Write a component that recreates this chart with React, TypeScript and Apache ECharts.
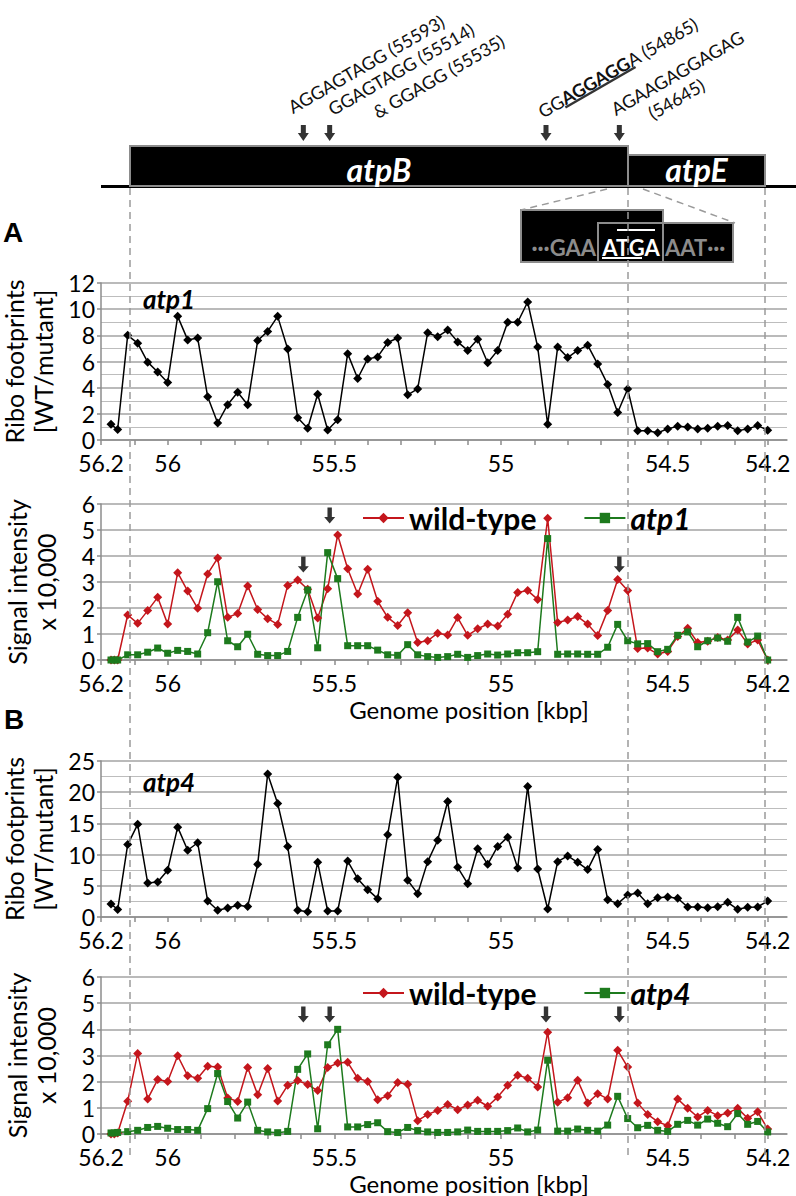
import React, { useEffect, useRef } from "react";
import * as echarts from "echarts";

// ---------- data ----------
const leadPositions = [56.17, 56.16, 56.15];
const positions = [
  56.12, 56.09, 56.06, 56.03, 56.0, 55.97, 55.94, 55.91, 55.88, 55.85,
  55.82, 55.79, 55.76, 55.73, 55.7, 55.67, 55.64, 55.61, 55.58, 55.55,
  55.52, 55.49, 55.46, 55.43, 55.4, 55.37, 55.34, 55.31, 55.28, 55.25,
  55.22, 55.19, 55.16, 55.13, 55.1, 55.07, 55.04, 55.01, 54.98, 54.95,
  54.92, 54.89, 54.86, 54.83, 54.8, 54.77, 54.74, 54.71, 54.68, 54.65,
  54.62, 54.59, 54.56, 54.53, 54.5, 54.47, 54.44, 54.41, 54.38, 54.35,
  54.32, 54.29, 54.26, 54.23, 54.2,
];

const riboAtp1Lead = [1.2, null, 0.8];
const riboAtp1 = [
  8.0, 7.4, 5.95, 5.2, 4.4, 9.45, 7.65, 7.8, 3.3, 1.3,
  2.7, 3.65, 2.7, 7.6, 8.3, 9.45, 6.95, 1.7, 0.9, 3.5,
  0.77, 1.55, 6.6, 4.7, 6.2, 6.35, 7.45, 7.8, 3.45, 3.9,
  8.2, 7.9, 8.4, 7.5, 6.85, 7.7, 5.9, 6.85, 9.0, 9.0,
  10.55, 7.1, 1.2, 7.1, 6.3, 6.85, 7.25, 5.8, 4.25, 2.1,
  3.9, 0.7, 0.7, 0.55, 0.85, 1.05, 1.0, 0.85, 0.9, 1.05,
  1.1, 0.7, 0.85, 1.1, 0.75,
];

const signalWtALead = [0, 0, 0];
const signalWtA = [
  1.73, 1.41, 1.9, 2.41, 1.38, 3.36, 2.65, 1.99, 3.31, 3.92,
  1.64, 1.79, 2.85, 1.94, 1.59, 1.37, 2.87, 3.08, 2.72, 1.62,
  2.74, 4.81, 3.51, 2.54, 3.49, 2.26, 1.64, 1.33, 1.82, 0.67,
  0.74, 1.03, 0.96, 1.63, 0.95, 1.2, 1.38, 1.31, 1.76, 2.6,
  2.67, 2.33, 5.45, 1.44, 1.54, 1.67, 1.38, 0.94, 1.9, 3.1,
  2.67, 0.44, 0.46, 0.23, 0.33, 0.9, 1.22, 0.67, 0.72, 0.87,
  0.77, 1.15, 0.62, 0.77, 0,
];
const signalAtp1Lead = [0, 0, 0];
const signalAtp1 = [
  0.2, 0.2, 0.3, 0.46, 0.26, 0.37, 0.33, 0.23, 1.05, 3.01,
  0.74, 0.51, 0.99, 0.22, 0.17, 0.17, 0.33, 1.64, 2.69, 0.47,
  4.13, 3.13, 0.55, 0.55, 0.55, 0.38, 0.2, 0.18, 0.59, 0.2,
  0.13, 0.1, 0.13, 0.22, 0.1, 0.17, 0.23, 0.19, 0.23, 0.28,
  0.28, 0.32, 4.67, 0.22, 0.23, 0.23, 0.22, 0.22, 0.49, 1.37,
  0.74, 0.62, 0.63, 0.32, 0.41, 0.95, 1.08, 0.51, 0.74, 0.85,
  0.72, 1.64, 0.69, 0.92, 0,
];

const riboAtp4Lead = [2.1, null, 1.2];
const riboAtp4 = [
  11.6, 14.85, 5.45, 5.6, 7.5, 14.4, 10.7, 11.9, 2.56, 1.07,
  1.44, 1.87, 1.7, 8.44, 22.9, 18.2, 11.3, 1.07, 0.85, 8.76,
  0.96, 0.96, 8.97, 6.14, 4.38, 2.94, 13.2, 22.4, 5.9, 3.74,
  8.87, 12.3, 18.5, 7.96, 5.34, 10.95, 8.44, 11.3, 12.8, 7.85,
  20.9, 7.7, 1.28, 8.87, 9.78, 8.76, 7.6, 10.8, 2.78, 2.14,
  3.53, 3.85, 2.14, 3.1, 3.2, 3.0, 1.6, 1.6, 1.5, 1.66,
  2.35, 1.23, 1.55, 1.6, 2.56,
];

const signalWtBLead = [0, 0, 0.04];
const signalWtB = [
  1.25, 3.08, 1.34, 2.08, 2.01, 2.99, 2.23, 2.13, 2.59, 2.56,
  1.38, 1.24, 2.54, 1.5, 2.5, 1.26, 1.86, 2.04, 1.89, 1.66,
  2.54, 2.71, 2.74, 2.13, 2.01, 1.31, 1.46, 1.97, 1.9, 0.51,
  0.75, 0.9, 1.13, 0.93, 1.11, 1.29, 1.06, 1.41, 1.86, 2.25,
  2.13, 1.8, 3.89, 1.21, 1.39, 2.05, 1.18, 1.54, 1.34, 3.2,
  2.56, 1.18, 0.75, 0.47, 0.32, 1.34, 0.98, 0.65, 0.9, 0.7,
  0.8, 0.98, 0.6, 0.85, 0.19,
];
const signalAtp4Lead = [0.04, 0.04, 0.06];
const signalAtp4 = [
  0.09, 0.14, 0.25, 0.29, 0.22, 0.17, 0.17, 0.14, 0.97, 2.31,
  1.24, 0.61, 1.22, 0.14, 0.08, 0.05, 0.1, 2.47, 3.06, 0.2,
  3.41, 4.0, 0.27, 0.27, 0.36, 0.43, 0.09, 0.06, 0.25, 0.13,
  0.08, 0.06, 0.06, 0.08, 0.15, 0.1, 0.1, 0.1, 0.13, 0.23,
  0.08, 0.15, 2.82, 0.11, 0.11, 0.19, 0.14, 0.11, 0.34, 1.44,
  0.59, 0.24, 0.33, 0.14, 0.1, 0.37, 0.52, 0.34, 0.57, 0.41,
  0.28, 0.78, 0.37, 0.48, 0.08,
];

const tickValues = [
  56.2, 56.1, 56.0, 55.9, 55.8, 55.7, 55.6, 55.5, 55.4, 55.3, 55.2,
  55.1, 55.0, 54.9, 54.8, 54.7, 54.6, 54.5, 54.4, 54.3, 54.2,
];
const labelValues = [56.2, 56, 55.5, 55, 54.5, 54.2];

// motif positions (kbp) marked by arrows
const arrowPositions = [55.593, 55.514, 54.865, 54.645];
const arrowLevelsA = [3.67, 5.56, 6.13, 3.67];
const arrowLevelsB = [4.57, 4.57, 4.57, 4.57];

const geneNames = ["atpB", "atpE"];
const geneStarts = [56.113, 54.619];
const geneEnds = [54.619, 54.208];

// ---------- styling ----------
const FONT = "Lato";
const RED = "#c4161c";
const GREEN = "#1d7a1d";
const AXIS_GRAY = "#8c8c8c";
const ARROW_PATH = "path://M3,0L7,0L7,9L10,9L5,15L0,9L3,9Z";

function pairs(lead: (number | null)[], main: number[]) {
  const out: number[][] = [];
  lead.forEach((v, k) => {
    if (v != null) out.push([leadPositions[k], v]);
  });
  main.forEach((v, k) => out.push([positions[k], v]));
  return out;
}

function xAxisFor(gridIndex: number, withName: boolean) {
  return {
    type: "value",
    gridIndex,
    min: 54.142,
    max: 56.2,
    inverse: true,
    axisLine: { show: true, onZero: false, lineStyle: { color: AXIS_GRAY, width: 1.5 } },
    axisTick: {
      show: true,
      customValues: tickValues,
      length: 5,
      lineStyle: { color: AXIS_GRAY, width: 1.5 },
    },
    axisLabel: {
      customValues: labelValues,
      formatter: (v: number) => String(Math.round(v * 10) / 10),
      color: "#000",
      fontSize: 23,
      lineHeight: 20,
      fontFamily: FONT,
      margin: 13,
    },
    splitLine: { show: false },
    name: withName ? "Genome position [kbp]" : "",
    nameLocation: "middle",
    nameGap: 37,
    nameTextStyle: {
      fontSize: 24,
      fontFamily: FONT,
      color: "#000",
      padding: [0, 0, 0, 50],
    },
  };
}

function yAxisFor(gridIndex: number, max: number, interval: number, minor: boolean, name: string) {
  return {
    type: "value",
    gridIndex,
    min: 0,
    max,
    interval,
    axisLine: { show: true, lineStyle: { color: AXIS_GRAY, width: 1.5 } },
    axisTick: { show: true, length: 4, lineStyle: { color: AXIS_GRAY, width: 1.5 } },
    axisLabel: { color: "#000", fontSize: 23, lineHeight: 18, fontFamily: FONT, margin: 6 },
    splitLine: { show: true, lineStyle: { color: "#a3a3a3", width: 1.5 } },
    minorTick: { show: false, splitNumber: 2 },
    minorSplitLine: { show: minor, lineStyle: { color: "#bdbdbd", width: 1 } },
    name,
    nameLocation: "middle",
    nameRotate: 90,
    nameGap: 41,
    nameTextStyle: { fontSize: 25, lineHeight: 29, fontFamily: FONT, color: "#000" },
  };
}

function riboSeries(name: string, idx: number, data: number[][]) {
  return {
    type: "line",
    name,
    xAxisIndex: idx,
    yAxisIndex: idx,
    data,
    symbol: "diamond",
    symbolSize: 9,
    lineStyle: { color: "#000", width: 1.5 },
    itemStyle: { color: "#000" },
    silent: true,
  };
}

function signalSeries(name: string, idx: number, data: number[][], wt: boolean, levels?: number[]) {
  const s: any = {
    type: "line",
    name,
    xAxisIndex: idx,
    yAxisIndex: idx,
    data,
    symbol: wt ? "diamond" : "rect",
    symbolSize: wt ? 9 : 7,
    lineStyle: { color: wt ? RED : GREEN, width: 1.5 },
    itemStyle: { color: wt ? RED : GREEN },
    silent: true,
  };
  if (levels) {
    s.markPoint = {
      symbol: ARROW_PATH,
      symbolSize: [11, 16],
      silent: true,
      itemStyle: { color: "#333" },
      label: { show: false },
      data: arrowPositions.map((x, k) => ({ coord: [x, levels[k]] })),
    };
  }
  return s;
}

function legendFor(names: string[], top: number) {
  return {
    data: names,
    left: 357,
    top,
    orient: "horizontal",
    itemWidth: 41,
    itemHeight: 13,
    itemGap: 47,
    selectedMode: false,
    formatter: (n: string) => (n === "wild-type" ? n : `{i|${n}}`),
    textStyle: {
      fontSize: 30,
      fontWeight: "bold",
      fontFamily: FONT,
      color: "#000",
      rich: { i: { fontSize: 30, fontWeight: "bold", fontStyle: "italic", fontFamily: FONT, color: "#000" } },
    },
  };
}

function buildGraphic(px: (v: number) => number) {
  const els: any[] = [];
  const dash = { stroke: "#9a9a9a", lineWidth: 1.5, lineDash: [7, 5] };
  const rot = Math.PI / 6;
  const dir = [Math.cos(rot), -Math.sin(rot)];
  const nrm = [Math.sin(rot), Math.cos(rot)];

  // baseline
  els.push({ type: "line", shape: { x1: 101, y1: 186.5, x2: 796, y2: 186.5 }, style: { stroke: "#000", lineWidth: 3 }, z: 10 });
  // genes
  const tops = [146, 155];
  geneNames.forEach((g, k) => {
    const x0 = px(geneStarts[k]);
    const x1 = px(geneEnds[k]);
    els.push({
      type: "rect",
      shape: { x: x0, y: tops[k], width: x1 - x0, height: 186 - tops[k] },
      style: { fill: "#000", stroke: "#8c8c8c", lineWidth: 2 },
      z: 11,
    });
    els.push({
      type: "text",
      x: (x0 + x1) / 2,
      y: 169,
      style: {
        text: g, fill: "#fff", fontSize: 32, fontWeight: "bold", fontStyle: "italic",
        fontFamily: FONT, align: "center", verticalAlign: "middle",
      },
      z: 12,
    });
  });
  // arrows above gene
  arrowPositions.forEach((a) => {
    const cx = px(a);
    els.push({
      type: "polygon",
      shape: { points: [[cx - 2.5, 125], [cx + 2.5, 125], [cx + 2.5, 133], [cx + 5.5, 133], [cx, 141], [cx - 5.5, 133], [cx - 2.5, 133]] },
      style: { fill: "#333" },
      z: 12,
    });
  });
  // rotated motif labels
  const seqStyle = { fontSize: 18, fontFamily: FONT, fill: "#111", align: "left", verticalAlign: "bottom" };
  const labels = [
    { t: "AGGAGTAGG (55593)", x: 294, y: 116 },
    { t: "GGAGTAGG (55514)", x: 334, y: 118 },
    { t: "& GGAGG (55535)", x: 379, y: 121 },
    { t: "AGAAGAGGAGAG", x: 617, y: 118 },
    { t: "(54645)", x: 654, y: 122 },
  ];
  labels.forEach((l) => {
    els.push({ type: "text", x: l.x, y: l.y, rotation: rot, style: { ...seqStyle, text: l.t }, z: 12 });
  });
  const base = [542, 117];
  els.push({
    type: "text",
    x: base[0] + nrm[0] * 4,
    y: base[1] + nrm[1] * 4,
    rotation: rot,
    style: {
      ...seqStyle,
      text: "{n|GG}{b|AGGAGG}{n|A (54865)}",
      rich: {
        n: { fontSize: 18, fontFamily: FONT, fill: "#111" },
        b: { fontSize: 18, fontFamily: FONT, fontWeight: "bold", fill: "#111" },
      },
    },
    z: 12,
  });
  const u0 = 25, u1 = 106, uo = 3.5;
  els.push({
    type: "line",
    shape: {
      x1: base[0] + dir[0] * u0 + nrm[0] * uo,
      y1: base[1] + dir[1] * u0 + nrm[1] * uo,
      x2: base[0] + dir[0] * u1 + nrm[0] * uo,
      y2: base[1] + dir[1] * u1 + nrm[1] * uo,
    },
    style: { stroke: "#333", lineWidth: 2.5 },
    z: 12,
  });

  // inset
  els.push({ type: "rect", shape: { x: 521, y: 210, width: 142, height: 52 }, style: { fill: "#000", stroke: "#8c8c8c", lineWidth: 2 }, z: 11 });
  els.push({ type: "rect", shape: { x: 663, y: 223, width: 70, height: 39 }, style: { fill: "#000", stroke: "#8c8c8c", lineWidth: 2 }, z: 11 });
  els.push({ type: "rect", shape: { x: 598, y: 223, width: 65, height: 39 }, style: { fill: "none", stroke: "#8c8c8c", lineWidth: 2 }, z: 12 });
  const inset = { fontSize: 22, fontWeight: "bold", fontFamily: FONT, verticalAlign: "middle" };
  els.push({ type: "text", x: 596, y: 247, style: { ...inset, text: "···GAA", fill: "#8c8c8c", align: "right" }, z: 13 });
  els.push({ type: "text", x: 631, y: 247, style: { ...inset, text: "ATGA", fill: "#fff", align: "center" }, z: 13 });
  els.push({ type: "text", x: 665, y: 247, style: { ...inset, text: "AAT···", fill: "#8c8c8c", align: "left" }, z: 13 });
  els.push({ type: "line", shape: { x1: 602, y1: 258, x2: 642, y2: 258 }, style: { stroke: "#fff", lineWidth: 2 }, z: 13 });
  els.push({ type: "line", shape: { x1: 617, y1: 230, x2: 655, y2: 230 }, style: { stroke: "#fff", lineWidth: 2 }, z: 13 });

  // dashed guide lines
  els.push({ type: "line", shape: { x1: 607, y1: 189, x2: 521, y2: 210 }, style: dash, z: 14 });
  els.push({ type: "line", shape: { x1: 643, y1: 189, x2: 735, y2: 223 }, style: dash, z: 14 });
  [geneStarts[0], geneEnds[0], geneEnds[1]].forEach((g) => {
    const x = px(g);
    els.push({ type: "line", shape: { x1: x, y1: 188, x2: x, y2: 1155 }, style: dash, z: 14 });
  });

  // panel letters and chart labels
  const letter = { fontSize: 28, fontWeight: "bold", fontFamily: "Liberation Sans", fill: "#000", align: "center", verticalAlign: "middle" };
  els.push({ type: "text", x: 13, y: 232, style: { ...letter, text: "A" }, z: 15 });
  els.push({ type: "text", x: 14, y: 719, style: { ...letter, text: "B" }, z: 15 });
  const tag = { fontSize: 26, fontWeight: "bold", fontStyle: "italic", fontFamily: FONT, fill: "#000", align: "center", verticalAlign: "middle" };
  els.push({ type: "text", x: 169, y: 299, style: { ...tag, text: "atp1" }, z: 15 });
  els.push({ type: "text", x: 169, y: 782, style: { ...tag, text: "atp4" }, z: 15 });
  return els;
}

export default function App() {
  const ref = useRef<HTMLDivElement>(null);
  useEffect(() => {
    if (!ref.current) return;
    const chart = echarts.init(ref.current, null, { renderer: "svg" });
    const option: any = {
      animation: false,
      backgroundColor: "#fff",
      textStyle: { fontFamily: FONT },
      grid: [
        { left: 101, width: 686, top: 283, height: 157, outerBoundsMode: "none" },
        { left: 101, width: 686, top: 504, height: 156, outerBoundsMode: "none" },
        { left: 101, width: 686, top: 761, height: 156, outerBoundsMode: "none" },
        { left: 101, width: 686, top: 977, height: 157, outerBoundsMode: "none" },
      ],
      xAxis: [xAxisFor(0, false), xAxisFor(1, true), xAxisFor(2, false), xAxisFor(3, true)],
      yAxis: [
        yAxisFor(0, 12, 2, true, "Ribo footprints\n[WT/mutant]"),
        yAxisFor(1, 6, 1, false, "Signal intensity\nx 10,000"),
        yAxisFor(2, 25, 5, true, "Ribo footprints\n[WT/mutant]"),
        yAxisFor(3, 6, 1, false, "Signal intensity\nx 10,000"),
      ],
      legend: [legendFor(["wild-type", "atp1"], 498), legendFor(["wild-type", "atp4"], 973)],
      series: [
        riboSeries("atp1 ribo", 0, pairs(riboAtp1Lead, riboAtp1)),
        signalSeries("wild-type", 1, pairs(signalWtALead, signalWtA), true, arrowLevelsA),
        signalSeries("atp1", 1, pairs(signalAtp1Lead, signalAtp1), false),
        riboSeries("atp4 ribo", 2, pairs(riboAtp4Lead, riboAtp4)),
        signalSeries("wild-type", 3, pairs(signalWtBLead, signalWtB), true, arrowLevelsB),
        signalSeries("atp4", 3, pairs(signalAtp4Lead, signalAtp4), false),
      ],
    };
    chart.setOption(option);
    const px = (v: number) => chart.convertToPixel({ xAxisIndex: 0 } as any, v) as number;
    chart.setOption({ graphic: buildGraphic(px) });
    return () => chart.dispose();
  }, []);
  return (
    <div
      ref={ref}
      style={{ position: "absolute", left: 0, top: 0, width: 796, height: 1196, background: "#fff" }}
    />
  );
}
